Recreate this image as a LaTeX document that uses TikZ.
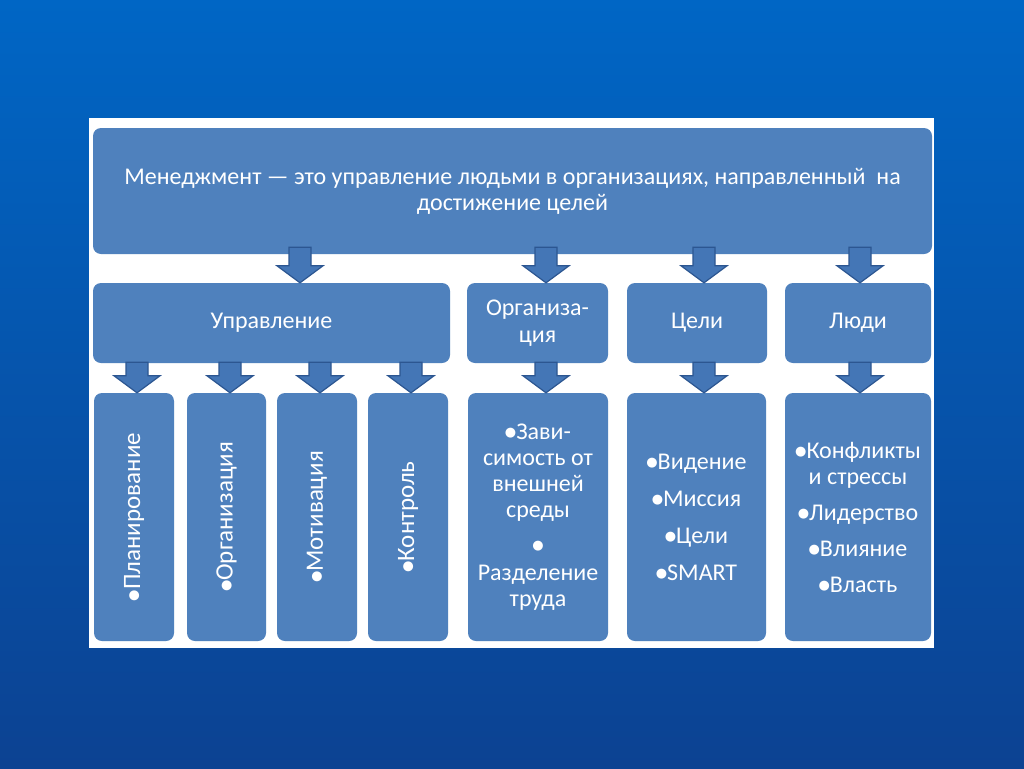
\documentclass[tikz,border=0pt]{standalone}
\usepackage{fontspec}
\setmainfont{Carlito}
\newfontfamily\symfont{DejaVu Sans}
\usetikzlibrary{calc}
\definecolor{boxblue}{RGB}{79,129,189}
\definecolor{arrfill}{RGB}{68,118,182}
\definecolor{arrdraw}{RGB}{44,86,145}
\definecolor{bgtop}{RGB}{0,102,197}
\definecolor{bgbot}{RGB}{12,66,146}
\newcommand\bul{\raisebox{2.5pt}{\symfont\fontsize{13}{13}\selectfont ●}}
\newcommand\blockarrow[4]{% x, from, to, overlap
  \coordinate (s) at (#1,0 |- #2.south);
  \coordinate (t) at (#1,0 |- #3.north);
  \draw[arr] ([shift={(-11pt,#4)}]s) -- ([shift={(11pt,#4)}]s)
    -- ([shift={(11pt,17pt)}]t) -- ([shift={(23pt,17pt)}]t) -- (t)
    -- ([shift={(-23pt,17pt)}]t) -- ([shift={(-11pt,17pt)}]t) -- cycle;}
\begin{document}
\begin{tikzpicture}[x=1pt,y=-1pt,
  box/.style={fill=boxblue, rounded corners=8pt, text=white, align=center,
    font=\fontsize{24}{26}\selectfont, inner sep=0pt},
  vtext/.style={rotate=90, text=white, font=\fontsize{25}{26}\selectfont, inner sep=0pt},
  arr/.style={fill=arrfill, draw=arrdraw, line width=1.2pt, line join=miter}]
\useasboundingbox (0,0) rectangle (1024,768);
\shade[top color=bgtop, bottom color=bgbot] (0,0) rectangle (1024,768);
\fill[white] (89,118) rectangle (934,648);

\node[box, minimum width=839pt, minimum height=126pt] (top) at (512.5,191)
  {Менеджмент — это управление людьми в организациях, направленный\ \ на\\достижение целей};

\node[box, minimum width=357pt, minimum height=80pt] (upr) at (271.5,323) {Управление};
\node[box, minimum width=141pt, minimum height=80pt] (org) at (537.5,323) {Организа-\\[1pt]ция};
\node[box, minimum width=140pt, minimum height=80pt] (cel) at (697,323) {Цели};
\node[box, minimum width=146pt, minimum height=80pt] (lyu) at (858,323) {Люди};

\node[box, minimum width=80pt, minimum height=248pt] (p1) at (134,517) {};
\node[box, minimum width=79pt, minimum height=248pt] (p2) at (226.5,517) {};
\node[box, minimum width=80pt, minimum height=248pt] (p3) at (317,517) {};
\node[box, minimum width=80pt, minimum height=248pt] (p4) at (408,517) {};
\node[vtext] (p1t) at (p1) {\bul Планирование};
\node[vtext] (p2t) at (p2) {\bul Организация};
\node[vtext] (p3t) at (p3) {\bul Мотивация};
\node[vtext] (p4t) at (p4) {\bul Контроль};

\node[box, minimum width=140pt, minimum height=248pt] (d1) at (538,517)
  {\bul Зави-\\симость от\\внешней\\среды\\[9pt]\bul\\[2pt]Разделение\\труда};
\node[box, minimum width=139pt, minimum height=248pt] (d2) at (696.5,517)
  {\bul Видение\\[11pt]\bul Миссия\\[11pt]\bul Цели\\[11pt]\bul SMART};
\node[box, minimum width=146pt, minimum height=248pt] (d3) at (858,517)
  {\bul Конфликты\\и стрессы\\[10pt]\bul Лидерство\\[10pt]\bul Влияние\\[10pt]\bul Власть};

\blockarrow{300}{top}{upr}{7pt}
\blockarrow{546}{top}{org}{7pt}
\blockarrow{704}{top}{cel}{7pt}
\blockarrow{860}{top}{lyu}{7pt}

\blockarrow{137}{upr}{p1}{1pt}
\blockarrow{230}{upr}{p2}{1pt}
\blockarrow{320}{upr}{p3}{1pt}
\blockarrow{411}{upr}{p4}{1pt}
\blockarrow{546}{org}{d1}{1pt}
\blockarrow{704}{cel}{d2}{1pt}
\blockarrow{860}{lyu}{d3}{1pt}
\end{tikzpicture}
\end{document}
